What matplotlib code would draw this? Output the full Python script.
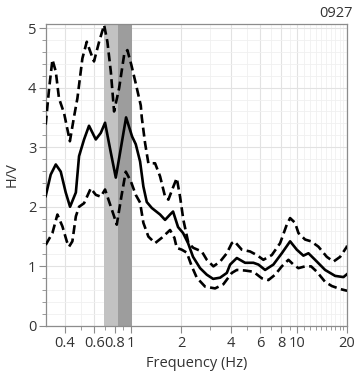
import matplotlib
matplotlib.use('Agg')
import matplotlib.pyplot as plt
from matplotlib.ticker import FixedLocator, FixedFormatter, MultipleLocator

plt.rcParams['font.family'] = ['Open Sans', 'DejaVu Sans']

# mean H/V curve
f_mean = [0.306, 0.328, 0.352, 0.377, 0.404, 0.429, 0.465, 0.486, 0.521, 0.558,
          0.613, 0.657, 0.697, 0.755, 0.809, 0.871, 0.933, 1.014, 1.067, 1.133,
          1.186, 1.243, 1.333, 1.495, 1.602, 1.717, 1.790, 1.918, 2.056, 2.204,
          2.361, 2.604, 2.858, 3.118, 3.437, 3.772, 3.948, 4.333, 4.859, 5.455,
          5.848, 6.415, 7.194, 8.088, 9.075, 9.956, 10.91, 11.70, 12.83, 14.74,
          16.94, 19.01, 20.0]
hv_mean = [2.18, 2.54, 2.71, 2.59, 2.24, 2.00, 2.24, 2.85, 3.13, 3.36,
           3.13, 3.24, 3.41, 2.91, 2.49, 3.01, 3.50, 3.18, 3.05, 2.76,
           2.34, 2.08, 1.98, 1.87, 1.78, 1.87, 1.92, 1.66, 1.56, 1.39,
           1.16, 0.97, 0.86, 0.79, 0.81, 0.89, 1.03, 1.14, 1.06, 1.06,
           1.03, 0.94, 1.03, 1.22, 1.42, 1.28, 1.18, 1.22, 1.11, 0.94,
           0.84, 0.82, 0.87]

# mean + std
f_up = [0.306, 0.321, 0.336, 0.352, 0.368, 0.395, 0.410, 0.428, 0.454, 0.475,
        0.509, 0.541, 0.572, 0.598, 0.642, 0.688, 0.720, 0.755, 0.790, 0.847,
        0.908, 0.950, 1.004, 1.067, 1.144, 1.160, 1.214, 1.271, 1.395, 1.495,
        1.602, 1.678, 1.798, 1.884, 1.972, 2.065, 2.214, 2.373, 2.666, 2.858,
        3.132, 3.437, 3.772, 4.043, 4.191, 4.643, 5.207, 5.716, 6.265, 7.041,
        7.903, 8.664, 9.075, 9.726, 10.18, 11.17, 12.14, 13.44, 15.09, 16.55,
        18.16, 19.93, 20.0]
hv_up = [3.38, 3.99, 4.47, 4.27, 3.82, 3.57, 3.35, 3.10, 3.52, 3.82,
         4.49, 4.77, 4.58, 4.44, 4.77, 5.05, 4.77, 4.27, 3.60, 3.99,
         4.55, 4.63, 4.38, 4.07, 3.70, 3.50, 3.07, 2.73, 2.73, 2.51,
         2.17, 2.12, 2.34, 2.48, 2.17, 1.78, 1.39, 1.31, 1.25, 1.11,
         1.00, 1.08, 1.22, 1.39, 1.42, 1.28, 1.25, 1.19, 1.11, 1.19,
         1.39, 1.70, 1.81, 1.73, 1.56, 1.45, 1.42, 1.33, 1.16, 1.08,
         1.16, 1.33, 1.35]

# mean - std
f_lo = [0.306, 0.336, 0.360, 0.386, 0.410, 0.423, 0.443, 0.465, 0.486, 0.521,
        0.572, 0.613, 0.657, 0.697, 0.737, 0.790, 0.820, 0.874, 0.929, 0.996,
        1.067, 1.133, 1.186, 1.271, 1.395, 1.531, 1.717, 1.823, 1.884, 2.019,
        2.166, 2.321, 2.487, 2.791, 3.206, 3.597, 4.043, 4.333, 4.859, 5.455,
        6.126, 6.716, 7.370, 8.088, 8.865, 9.500, 10.18, 11.17, 12.14, 13.14,
        14.74, 16.18, 18.16, 20.0]
hv_lo = [1.36, 1.56, 1.87, 1.67, 1.42, 1.33, 1.42, 1.84, 2.00, 2.06,
         2.31, 2.20, 2.17, 2.29, 2.09, 1.84, 1.70, 2.17, 2.59, 2.43,
         2.20, 2.07, 1.73, 1.50, 1.39, 1.48, 1.61, 1.48, 1.31, 1.28,
         1.23, 1.00, 0.81, 0.66, 0.63, 0.70, 0.89, 0.94, 0.93, 0.91,
         0.80, 0.77, 0.86, 1.00, 1.11, 1.03, 0.97, 1.00, 1.00, 0.91,
         0.74, 0.67, 0.62, 0.59]

# peak frequency bands
band_light = (0.687, 1.006)
band_dark = (0.835, 1.006)

xticks = [0.4, 0.6, 0.8, 1, 2, 4, 6, 8, 10, 20]
xticklabels = ['0.4', '0.6', '0.8', '1', '2', '4', '6', '8', '10', '20']
xminor = [0.3, 0.5, 0.7, 0.9, 3, 5, 7, 9, 11, 12, 13, 14, 15, 16, 17, 18, 19]

fig = plt.figure(figsize=(3.56, 3.79), dpi=100)
ax = fig.add_axes([0.129, 0.140, 0.846, 0.797])

ax.axvspan(*band_light, color='#c2c2c2', lw=0, zorder=1)
ax.axvspan(*band_dark, color='#9d9d9d', lw=0, zorder=1)

line_kw = dict(color='black', lw=1.9, zorder=3, solid_joinstyle='round',
               dash_joinstyle='round')
ax.plot(f_mean, hv_mean, **line_kw)
ax.plot(f_up, hv_up, ls=(0, (3.4, 1.7)), **line_kw)
ax.plot(f_lo, hv_lo, ls=(0, (3.4, 1.7)), **line_kw)

ax.set_xscale('log')
ax.set_xlim(0.307, 20)
ax.set_ylim(0, 5.07)

ax.xaxis.set_major_locator(FixedLocator(xticks))
ax.xaxis.set_major_formatter(FixedFormatter(xticklabels))
ax.xaxis.set_minor_locator(FixedLocator(xminor))
ax.xaxis.set_minor_formatter(FixedFormatter([''] * len(xminor)))
ax.yaxis.set_major_locator(MultipleLocator(1))
ax.yaxis.set_minor_locator(MultipleLocator(0.2))

ax.grid(which='major', color='#e2e2e2', lw=0.8, zorder=0)
ax.grid(which='minor', color='#f0f0f0', lw=0.6, zorder=0)
ax.set_axisbelow(True)

for sp in ax.spines.values():
    sp.set_color('#8c8c8c')
    sp.set_linewidth(0.9)
ax.tick_params(which='major', length=5, color='#8c8c8c', labelsize=10.5,
               labelcolor='#333333', pad=2)
ax.tick_params(which='minor', length=3, color='#8c8c8c')

ax.set_xlabel('Frequency (Hz)', fontsize=10.5, color='#333333', labelpad=4)
ax.set_ylabel('H/V', fontsize=10.5, color='#333333', labelpad=6)
fig.text(0.992, 0.985, '0927', ha='right', va='top', fontsize=10.5, color='#333333')

fig.savefig('out.png', dpi=100)
